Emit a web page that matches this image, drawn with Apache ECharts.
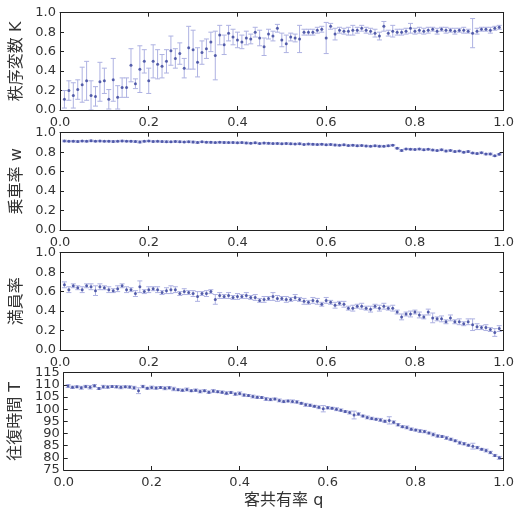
<!DOCTYPE html>
<html><head><meta charset="utf-8">
<script src="https://cdn.jsdelivr.net/npm/echarts@6/dist/echarts.min.js"></script>
<style>html,body{margin:0;padding:0;background:#fff}#c{width:517px;height:515px}</style>
</head><body><div id="c"></div>
<script>
const q = [0.01,0.02,0.03,0.04,0.05,0.06,0.07,0.08,0.09,0.10,
0.11,0.12,0.13,0.14,0.15,0.16,0.17,0.18,0.19,0.20,
0.21,0.22,0.23,0.24,0.25,0.26,0.27,0.28,0.29,0.30,
0.31,0.32,0.33,0.34,0.35,0.36,0.37,0.38,0.39,0.40,
0.41,0.42,0.43,0.44,0.45,0.46,0.47,0.48,0.49,0.50,
0.51,0.52,0.53,0.54,0.55,0.56,0.57,0.58,0.59,0.60,
0.61,0.62,0.63,0.64,0.65,0.66,0.67,0.68,0.69,0.70,
0.71,0.72,0.73,0.74,0.75,0.76,0.77,0.78,0.79,0.80,
0.81,0.82,0.83,0.84,0.85,0.86,0.87,0.88,0.89,0.90,
0.91,0.92,0.93,0.94,0.95,0.96,0.97,0.98,0.99];

const K = [0.11,0.20,0.15,0.21,0.26,0.30,0.15,0.14,0.29,0.30,
0.11,0.31,0.13,0.23,0.23,0.46,0.27,0.42,0.50,0.30,
0.50,0.47,0.45,0.50,0.61,0.53,0.58,0.43,0.64,0.62,
0.49,0.59,0.63,0.70,0.56,0.77,0.67,0.79,0.75,0.72,
0.70,0.74,0.73,0.80,0.74,0.65,0.78,0.76,0.84,0.72,
0.68,0.75,0.74,0.73,0.80,0.80,0.80,0.82,0.83,0.74,
0.86,0.78,0.82,0.81,0.81,0.82,0.82,0.84,0.82,0.81,
0.79,0.76,0.86,0.79,0.81,0.80,0.80,0.81,0.84,0.81,
0.82,0.81,0.82,0.83,0.81,0.83,0.82,0.82,0.81,0.82,
0.82,0.81,0.79,0.81,0.83,0.83,0.82,0.84,0.85];
const Kerr = [0.09,0.10,0.13,0.10,0.18,0.20,0.15,0.10,0.20,0.13,
0.10,0.22,0.12,0.10,0.10,0.17,0.05,0.24,0.12,0.13,
0.17,0.15,0.12,0.12,0.15,0.10,0.11,0.10,0.22,0.20,
0.15,0.12,0.10,0.10,0.25,0.10,0.10,0.08,0.08,0.08,
0.07,0.07,0.05,0.05,0.08,0.09,0.05,0.05,0.04,0.07,
0.09,0.04,0.04,0.14,0.03,0.03,0.03,0.03,0.03,0.16,
0.03,0.06,0.03,0.03,0.04,0.05,0.03,0.03,0.03,0.03,
0.04,0.04,0.05,0.03,0.06,0.03,0.03,0.03,0.05,0.03,
0.03,0.03,0.03,0.02,0.03,0.02,0.03,0.02,0.03,0.02,
0.03,0.02,0.15,0.03,0.02,0.02,0.03,0.02,0.02];

const W = [0.915,0.912,0.913,0.910,0.914,0.912,0.916,0.913,0.914,0.912,
0.913,0.910,0.912,0.915,0.913,0.912,0.909,0.905,0.911,0.915,
0.910,0.911,0.909,0.908,0.906,0.910,0.907,0.905,0.908,0.904,
0.900,0.906,0.903,0.901,0.898,0.902,0.900,0.898,0.899,0.897,
0.898,0.895,0.892,0.896,0.889,0.893,0.891,0.888,0.890,0.887,
0.889,0.886,0.884,0.887,0.880,0.883,0.881,0.878,0.882,0.876,
0.879,0.874,0.871,0.875,0.868,0.872,0.866,0.869,0.864,0.861,
0.865,0.862,0.860,0.866,0.872,0.840,0.818,0.833,0.831,0.828,
0.832,0.825,0.830,0.822,0.816,0.824,0.812,0.818,0.806,0.812,
0.800,0.806,0.792,0.785,0.795,0.780,0.782,0.762,0.778];
const Werr = [0.008,0.006,0.007,0.008,0.006,0.007,0.008,0.006,0.007,0.006,
0.007,0.008,0.006,0.007,0.006,0.007,0.008,0.010,0.007,0.006,
0.007,0.006,0.007,0.008,0.006,0.007,0.008,0.006,0.007,0.009,
0.008,0.006,0.007,0.008,0.006,0.007,0.008,0.006,0.007,0.006,
0.007,0.008,0.006,0.007,0.006,0.007,0.008,0.006,0.007,0.006,
0.007,0.008,0.006,0.007,0.006,0.007,0.008,0.006,0.007,0.006,
0.007,0.008,0.006,0.007,0.006,0.007,0.008,0.006,0.007,0.006,
0.007,0.008,0.006,0.007,0.006,0.007,0.008,0.006,0.007,0.006,
0.007,0.008,0.006,0.007,0.006,0.007,0.008,0.006,0.007,0.006,
0.007,0.008,0.006,0.007,0.006,0.007,0.008,0.006,0.007];

const M = [0.67,0.62,0.66,0.64,0.62,0.66,0.65,0.61,0.65,0.64,
0.62,0.61,0.63,0.66,0.62,0.62,0.58,0.65,0.60,0.62,
0.63,0.62,0.59,0.61,0.62,0.62,0.58,0.60,0.59,0.58,
0.55,0.58,0.58,0.60,0.52,0.56,0.55,0.56,0.54,0.55,
0.55,0.56,0.54,0.54,0.51,0.52,0.53,0.55,0.53,0.53,
0.52,0.52,0.54,0.52,0.50,0.49,0.51,0.50,0.47,0.51,
0.49,0.46,0.48,0.47,0.43,0.43,0.45,0.45,0.43,0.42,
0.45,0.43,0.45,0.43,0.43,0.39,0.34,0.37,0.37,0.39,
0.36,0.34,0.39,0.33,0.32,0.32,0.29,0.33,0.29,0.29,
0.27,0.29,0.26,0.24,0.23,0.23,0.21,0.18,0.22];
const Merr = [0.03,0.03,0.02,0.02,0.03,0.02,0.03,0.05,0.03,0.02,
0.03,0.02,0.03,0.02,0.03,0.02,0.03,0.06,0.02,0.03,
0.02,0.03,0.02,0.03,0.04,0.03,0.02,0.03,0.02,0.03,
0.05,0.02,0.03,0.02,0.05,0.03,0.02,0.03,0.02,0.03,
0.02,0.03,0.02,0.03,0.02,0.03,0.02,0.04,0.03,0.02,
0.03,0.02,0.03,0.02,0.03,0.02,0.03,0.03,0.02,0.03,
0.02,0.03,0.02,0.03,0.02,0.03,0.02,0.03,0.02,0.03,
0.02,0.03,0.03,0.02,0.03,0.02,0.03,0.02,0.03,0.02,
0.03,0.02,0.03,0.05,0.02,0.03,0.02,0.03,0.02,0.03,
0.02,0.03,0.06,0.03,0.02,0.03,0.02,0.04,0.03];

const T = [109.5,109.0,109.2,108.8,109.3,109.0,109.6,108.5,109.2,109.1,
109.3,109.2,109.0,109.2,109.1,108.8,107.6,109.3,108.6,108.9,
108.7,108.9,108.6,108.8,108.3,108.0,107.8,108.1,107.6,107.8,
107.3,107.6,107.0,107.5,107.2,107.0,106.6,106.9,106.2,106.5,
105.8,105.6,105.2,104.9,104.8,104.2,104.0,104.2,103.6,103.2,
103.4,103.2,103.0,102.4,101.8,101.6,101.2,100.8,100.2,100.6,
100.4,100.0,99.6,99.0,98.6,97.6,98.0,97.2,96.6,96.2,
95.9,95.6,95.0,95.4,94.6,93.6,92.8,92.5,91.8,91.4,
91.0,90.8,90.2,89.6,89.0,88.8,88.2,87.6,87.0,86.2,
85.8,85.2,84.8,84.2,83.5,83.0,82.2,81.0,80.0];
const Terr = [0.6,0.5,0.4,0.6,0.5,0.7,0.5,0.4,0.6,0.5,
0.4,0.5,0.6,0.4,0.5,0.6,1.2,0.5,0.4,0.6,
0.5,0.4,0.6,0.5,0.7,0.4,0.5,0.6,0.4,0.5,
0.6,0.4,0.5,0.6,0.4,0.5,0.6,0.4,0.5,0.6,
0.5,0.4,0.6,0.5,0.4,0.6,0.5,0.4,0.6,0.5,
0.4,0.6,0.5,0.4,0.6,0.5,0.4,0.6,1.3,0.5,
0.4,0.6,0.5,0.4,0.6,1.6,0.5,0.4,0.6,0.5,
0.4,0.6,0.5,1.5,0.6,0.5,0.4,0.6,0.5,0.4,
0.6,0.5,0.4,0.6,0.5,0.4,0.6,0.5,0.4,0.6,
0.5,0.4,1.2,0.5,0.4,0.6,0.5,0.4,0.6];

const yNames = ['秩序変数 K','乗車率 w','満員率','往復時間 T'];
const xName = '客共有率 q';
const yRanges = [[0,1,0.2],[0,1,0.2],[0,1,0.2],[75,115,5]];

const FONT = "'DejaVu Sans','Noto Sans CJK JP',sans-serif";
const LINE = '#222';
const PT = '#34409a';
const ERR = '#aeb2e2';
const tops = [12.7,132.7,252.7,372.7];
const H = 97.3;

const panels = [[K,Kerr],[W,Werr],[M,Merr],[T,Terr]];
const fmt = (g)=> g===3 ? (v=>String(v)) : (v=>v.toFixed(1));

const grid=[], xAxis=[], yAxis=[], series=[];
panels.forEach((p,g)=>{
  grid.push({left:60,width:447,top:tops[g],height:H});
  const common = {type:'value',min:0,max:1,interval:0.2,gridIndex:g,
    axisLine:{show:true,onZero:false,lineStyle:{color:LINE,width:1}},
    axisTick:{show:true,inside:true,length:4,lineStyle:{color:LINE}},
    splitLine:{show:false}};
  xAxis.push(Object.assign({},common,{position:'bottom',
    axisLabel:{show:true,margin:6,color:'#333',fontSize:13,fontFamily:FONT,
      showMinLabel:true,showMaxLabel:true,hideOverlap:false,formatter:v=>v.toFixed(1)},
    name: g===3?xName:'', nameLocation:'middle', nameGap:23,
    nameTextStyle:{color:'#333',fontSize:16,fontFamily:FONT}}));
  xAxis.push(Object.assign({},common,{position:'top',axisLabel:{show:false}}));
  const r = yRanges[g];
  const yc = {type:'value',min:r[0],max:r[1],interval:r[2],gridIndex:g,
    axisLine:{show:true,onZero:false,lineStyle:{color:LINE,width:1}},
    axisTick:{show:true,inside:true,length:4,lineStyle:{color:LINE}},
    splitLine:{show:false}};
  const crowded = g===3;
  yAxis.push(Object.assign({},yc,{position:'left',
    axisLabel:{show:true,margin:4,color:'#333',fontSize:13,fontFamily:FONT,
      showMinLabel:!crowded,showMaxLabel:!crowded,hideOverlap:false,formatter:fmt(g)},
    name:yNames[g],nameLocation:'middle',nameGap:30,nameRotate:90,
    nameTextStyle:{color:'#333',fontSize:16,fontFamily:FONT}}));
  yAxis.push(Object.assign({},yc,{position:'right',axisLabel:{show:false}}));

  const vals=p[0], errs=p[1];
  series.push({type:'custom',xAxisIndex:2*g,yAxisIndex:2*g,clip:true,silent:true,
    data:q.map((x,i)=>[x,vals[i]-errs[i],vals[i]+errs[i]]),
    renderItem:(params,api)=>{
      const x=api.value(0);
      const a=api.coord([x,api.value(1)]), b=api.coord([x,api.value(2)]);
      const st={stroke:ERR,lineWidth:1};
      const c=2.5;
      return {type:'group',children:[
        {type:'line',shape:{x1:a[0],y1:a[1],x2:b[0],y2:b[1]},style:st},
        {type:'line',shape:{x1:a[0]-c,y1:a[1],x2:a[0]+c,y2:a[1]},style:st},
        {type:'line',shape:{x1:b[0]-c,y1:b[1],x2:b[0]+c,y2:b[1]},style:st}
      ]};
    },z:2});
  series.push({type:'scatter',xAxisIndex:2*g,yAxisIndex:2*g,symbol:'circle',symbolSize:3,
    itemStyle:{color:PT},data:q.map((x,i)=>[x,vals[i]]),z:3,silent:true});
});
// extra label-only axis on panel 4 for its end labels (75 and 115)
const r4 = yRanges[3];
yAxis.push({type:'value',min:r4[0],max:r4[1],interval:r4[2],gridIndex:3,position:'left',
  axisLine:{show:false},axisTick:{show:false},splitLine:{show:false},
  axisLabel:{show:true,margin:4,color:'#333',fontSize:13,fontFamily:FONT,
    showMinLabel:true,showMaxLabel:true,hideOverlap:false,
    formatter:v=>(v===r4[0]||v===r4[1])?String(v):''}});

const chart = echarts.init(document.getElementById('c'),null,{renderer:'canvas'});
chart.setOption({animation:false,backgroundColor:'#fff',grid,xAxis,yAxis,series});
</script></body></html>
